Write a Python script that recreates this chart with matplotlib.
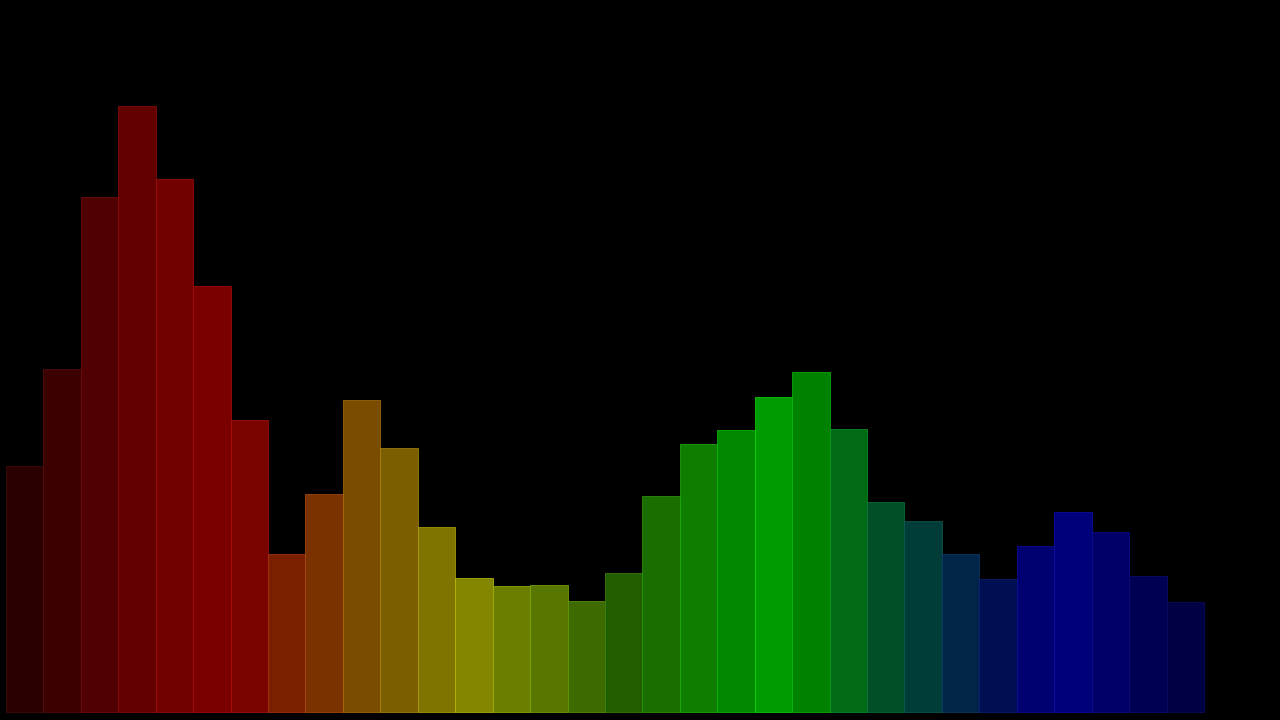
import matplotlib
matplotlib.use('Agg')
from matplotlib import pyplot as plt
import matplotlib.colors as mcolors
import numpy as np

# histogram bin counts, left to right
counts = [246, 343, 515, 606, 533, 426, 292, 158, 218, 312, 264, 185, 134, 126, 127, 111,
          139, 216, 268, 282, 315, 340, 283, 210, 191, 158, 133, 166, 200, 180, 136, 110]

# bar colours (dark red -> yellow -> green -> blue)
bar_colors = ['#2a0000', '#3c0000', '#500000', '#620000', '#730000', '#7a0000', '#7a0400', '#7a1f00',
              '#7a3300', '#7a4c00', '#7a5e00', '#7f7400', '#838700', '#6c7e00', '#577700', '#3d6b00',
              '#225d00', '#1a6e00', '#0e7d00', '#008800', '#009b00', '#008200', '#006a15', '#004f26',
              '#003c38', '#002548', '#000e52', '#000070', '#00007a', '#000068', '#000052', '#000044']

# slightly lighter outline for each bar
edge_colors = []
for c in bar_colors:
    rgb = np.array(mcolors.to_rgb(c))
    e = np.clip(rgb * 1.35 + 0.05, 0, 1)
    edge_colors.append(tuple(e))

fig = plt.figure(figsize=(12.8, 7.2), dpi=100, facecolor='black')
ax = fig.add_axes([0, 0, 1, 1])
ax.set_facecolor('black')

x = np.arange(len(counts))
ax.bar(x, counts, width=1.0, align='edge', color=bar_colors,
       edgecolor=edge_colors, linewidth=0.5)

ax.set_xlim(-0.16, 34.03)
ax.set_ylim(-8, 712)
ax.axis('off')

fig.savefig('out.png', dpi=100, facecolor='black')
